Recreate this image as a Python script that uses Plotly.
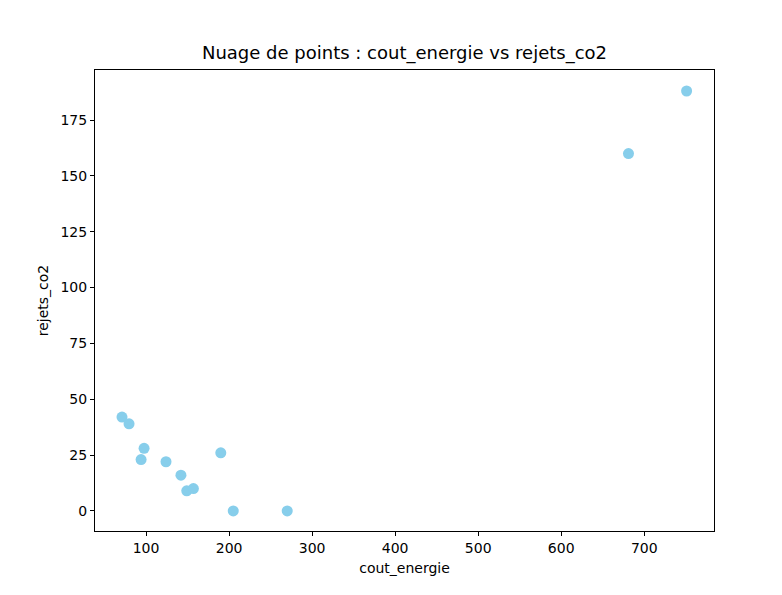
import plotly.graph_objects as go

cout_energie = [71, 79.5, 97.6, 94, 124, 142, 149, 157, 190, 205, 270, 681, 751]
rejets_co2 = [42, 39, 28, 23, 22, 16, 9, 10, 26, 0, 0, 160, 188]

fig = go.Figure(go.Scatter(x=cout_energie, y=rejets_co2, mode="markers",
                           marker=dict(color="#87CEEB", size=11, line=dict(width=0))))
ax = dict(showgrid=False, zeroline=False, showline=True, linecolor="black", mirror=True,
          ticks="outside", ticklen=4, tickcolor="black",
          tickfont=dict(family="DejaVu Sans", size=14, color="black"))
fig.update_layout(
    width=782, height=595, plot_bgcolor="white", paper_bgcolor="white",
    margin=dict(l=87, r=76, t=62, b=72),
    title=dict(text="Nuage de points : cout_energie vs rejets_co2", x=0.5, xref="paper",
               y=1-45/595, yanchor="middle",
               font=dict(family="DejaVu Sans", size=18, color="black")),
    xaxis=dict(ax, range=[38.5, 784], tickvals=[100, 200, 300, 400, 500, 600, 700],
               title=dict(text="cout_energie", standoff=8,
                          font=dict(family="DejaVu Sans", size=14, color="black"))),
    yaxis=dict(ax, range=[-9, 197.4], tickvals=[0, 25, 50, 75, 100, 125, 150, 175],
               title=dict(text="rejets_co2", standoff=8,
                          font=dict(family="DejaVu Sans", size=14, color="black"))),
    showlegend=False,
)
fig.write_html("out.html")
